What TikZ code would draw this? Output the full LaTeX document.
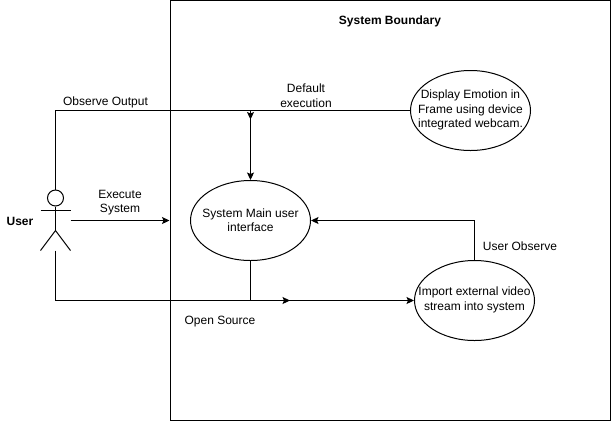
\documentclass[tikz,border=0pt]{standalone}
\usepackage{fontspec}
\setmainfont{Liberation Sans}
\usetikzlibrary{arrows.meta,shapes.geometric}
\tikzset{
  every picture/.style={line width=1bp},
  lbl/.style={inner sep=0pt,align=center,font=\fontsize{12bp}{14.5bp}\selectfont},
  blbl/.style={lbl,font=\fontsize{12bp}{14.5bp}\selectfont\bfseries},
  ucase/.style={draw,ellipse,inner sep=0pt,minimum width=120bp,minimum height=80bp,label={[lbl,yshift=0.5bp]center:#1}},
  arr/.style={-{Stealth[length=7.5bp,width=7bp,inset=1.5bp]}}
}
\begin{document}
\begin{tikzpicture}[x=1bp,y=-1bp]
\useasboundingbox (0,0) rectangle (612,422);
\node[draw,minimum width=440bp,minimum height=420bp,inner sep=0pt] (boundary) at (390.5,210.5) {};
\node[ucase={System Main user\\interface}] (main) at (250.5,220.5) {};
\node[ucase={Display Emotion in\\Frame using device\\integrated webcam.}] (display) at (470.5,110.5) {};
\node[ucase={Import external video\\stream into system}] (import) at (474.5,300.5) {};
% actor
\node[draw,circle,minimum size=16bp,inner sep=0pt] (head) at (55.5,198) {};
\coordinate (hip) at (55.5,230.5);
\coordinate (armL) at (40.5,210.5);
\coordinate (armR) at (70.5,210.5);
\coordinate (legL) at (40.5,250.5);
\coordinate (legR) at (70.5,250.5);
\coordinate (foot) at (55.5,250.5);
\draw (head.south) -- (hip);
\draw (armL) -- (armR);
\draw (legL) -- (hip) -- (legR);
% connectors
\coordinate (tl) at (55.5,110.5);
\coordinate (bl) at (55.5,300.5);
\coordinate (j1) at (250.5,110.5);
\coordinate (j1a) at (250.5,119.5);
\coordinate (j2) at (250.5,300.5);
\coordinate (j2a) at (290,300.5);
\coordinate (act) at (70.5,220.5);
\coordinate (bnd) at (169.5,220.5);
\coordinate (elbow) at (474.5,220.5);
\draw (head.north) -- (tl) -- (display.west);
\draw[arr] (j1) -- (j1a);
\draw[arr] (j1) -- (main.north);
\draw[arr] (act) -- (bnd);
\draw (foot) -- (bl) -- (j2a);
\draw[arr] (j2) -- (j2a);
\draw[arr] (j2a) -- (import.west);
\draw (main.south) -- (j2);
\draw[arr] (import.north) -- (elbow) -- (main.east);
% labels
\node[blbl] (t0) at (390,21.5) {System Boundary};
\node[lbl] (t1) at (105.5,102) {Observe Output};
\node[lbl] (t2) at (306,95.5) {Default\\execution};
\node[lbl] (t3) at (120,202.5) {Execute\\System};
\node[blbl] (t4) at (20,221.5) {User};
\node[lbl] (t5) at (220,322) {Open Source};
\node[lbl] (t6) at (520,246.5) {User Observe};
\end{tikzpicture}
\end{document}
